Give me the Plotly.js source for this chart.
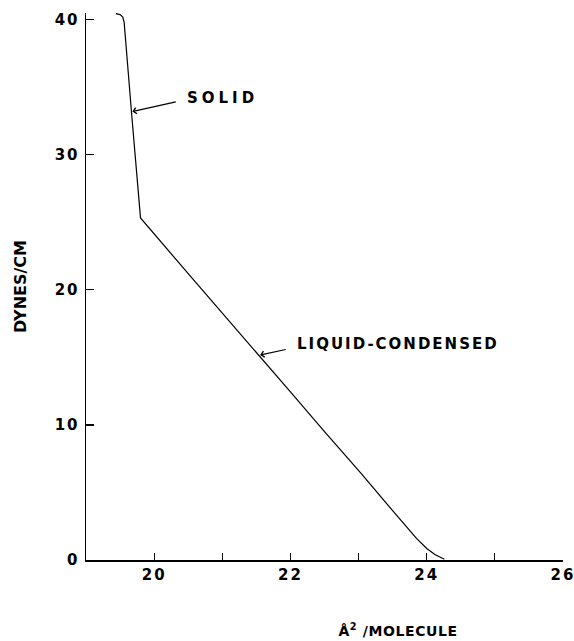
<!DOCTYPE html>
<html>
<head>
<meta charset="utf-8">
<script src="https://cdn.plot.ly/plotly-3.0.1.min.js"></script>
<style>
  html, body { margin: 0; padding: 0; background: #fff; }
  #chart { width: 574px; height: 641px; }
  .xtick text, .ytick text { letter-spacing: 2px; }
  g.annotation[data-index="0"] .annotation-text { letter-spacing: 4px; }
  g.annotation[data-index="1"] .annotation-text { letter-spacing: 2px; }
  g.annotation[data-index="2"] .annotation-text { letter-spacing: 0.6px; }
</style>
</head>
<body>
<div id="chart"></div>
<script>
// Surface pressure isotherm
const areaPerMolecule = [19.44, 19.50, 19.54, 19.56, 19.67, 19.80, 20.50, 21.00, 21.57, 22.00, 22.50, 23.04, 23.50, 23.85, 24.00, 24.12, 24.26];
const surfacePressure = [40.45, 40.38, 40.20, 39.80, 33.00, 25.33, 21.20, 18.30, 15.00, 12.45, 9.50, 6.40, 3.65, 1.60, 0.85, 0.40, 0.05];

const xTickVals = [20, 22, 24, 26];
const xTickText = ["20", "22", "24", "26"];
const yTickVals = [0, 10, 20, 30, 40];
const yTickText = ["0", "10", "20", "30", "40"];

const phaseLabels = ["SOLID", "LIQUID-CONDENSED"];
const phasePointX = [19.68, 21.555];
const phasePointY = [33.2, 15.18];

const fontFam = '"DejaVu Sans", "Liberation Sans", Arial, sans-serif';
const tickFont = { family: fontFam, size: 15, color: '#000', weight: 'bold' };

const trace = {
  x: areaPerMolecule,
  y: surfacePressure,
  type: 'scatter',
  mode: 'lines',
  line: { color: '#000', width: 1.2 },
  hoverinfo: 'skip',
  showlegend: false
};

const layout = {
  width: 574,
  height: 641,
  margin: { l: 86, r: 11, t: 13, b: 81 },
  paper_bgcolor: '#fff',
  plot_bgcolor: '#fff',
  showlegend: false,
  xaxis: {
    range: [19, 26],
    tickvals: xTickVals,
    ticktext: xTickText,
    ticks: 'inside',
    ticklen: 7,
    tickwidth: 1.2,
    tickcolor: '#000',
    minor: { tick0: 19, dtick: 1, ticks: 'inside', ticklen: 7, tickwidth: 1.2, tickcolor: '#000', showgrid: false },
    showline: true,
    linecolor: '#000',
    linewidth: 1.5,
    showgrid: false,
    zeroline: false,
    tickfont: tickFont,
    ticklabelstandoff: 0,
    ticklabeloverflow: 'allow',
    fixedrange: true
  },
  yaxis: {
    range: [0, 40.5],
    tickvals: yTickVals,
    ticktext: yTickText,
    ticks: 'inside',
    ticklen: 8,
    tickwidth: 1.2,
    tickcolor: '#000',
    showline: true,
    linecolor: '#000',
    linewidth: 1.5,
    showgrid: false,
    zeroline: false,
    tickfont: tickFont,
    ticklabelstandoff: 2,
    ticklabeloverflow: 'allow',
    title: { text: 'DYNES/CM', font: { family: fontFam, size: 16, color: '#000', weight: 'bold' }, standoff: 24 },
    automargin: false,
    fixedrange: true
  },
  annotations: [
    {
      x: phasePointX[0], y: phasePointY[0], xref: 'x', yref: 'y',
      text: phaseLabels[0], showarrow: true, ax: 63, ay: -14,
      xanchor: 'left', yanchor: 'middle',
      arrowhead: 4, arrowsize: 1, arrowwidth: 1.2, arrowcolor: '#000', startstandoff: 20,
      font: { family: fontFam, size: 15, color: '#000', weight: 'bold' }
    },
    {
      x: phasePointX[1], y: phasePointY[1], xref: 'x', yref: 'y',
      text: phaseLabels[1], showarrow: true, ax: 51, ay: -11,
      xanchor: 'left', yanchor: 'middle',
      arrowhead: 4, arrowsize: 1, arrowwidth: 1.2, arrowcolor: '#000', startstandoff: 26,
      font: { family: fontFam, size: 15, color: '#000', weight: 'bold' }
    },
    {
      x: 0.655, y: -0.128, xref: 'paper', yref: 'paper',
      text: 'Å<sup>2</sup> /MOLECULE', showarrow: false,
      xanchor: 'center', yanchor: 'middle',
      font: { family: fontFam, size: 14, color: '#000', weight: 'bold' }
    }
  ]
};

Plotly.newPlot('chart', [trace], layout, { staticPlot: true, displayModeBar: false });
</script>
</body>
</html>
